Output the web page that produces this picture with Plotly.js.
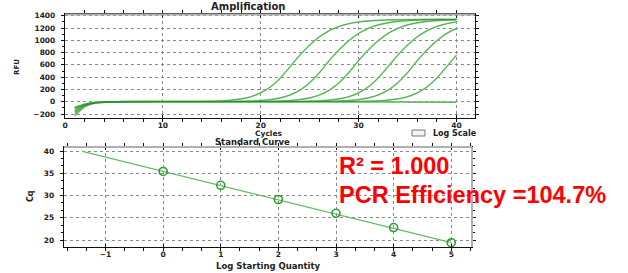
<!DOCTYPE html>
<html>
<head>
<meta charset="utf-8">
<script src="https://cdn.plot.ly/plotly-3.0.1.min.js"></script>
<style>html,body{margin:0;padding:0;background:#fff;}#chart{width:628px;height:273px;}</style>
</head>
<body>
<div id="chart"></div>
<script>
// ---- Amplification data (RFU per cycle) ----
const cycles = [1,2,3,4,5,6,7,8,9,10,11,12,13,14,15,16,17,18,19,20,21,22,23,24,25,26,27,28,29,30,31,32,33,34,35,36,37,38,39,40];
const rfuStd1 = [-150,-55,-18,-6,-2,0,1,2,2,3,3,3,3,4,8,14,26,46,82,144,241,385,569,757,922,1057,1157,1225,1270,1298,1315,1325,1331,1334,1337,1339,1340,1341,1342,1342];
const rfuStd2 = [-200,-70,-22,-8,-3,-1,0,1,1,2,2,2,2,2,2,3,4,6,10,19,34,62,109,187,307,473,670,843,993,1111,1194,1250,1285,1307,1320,1328,1333,1336,1338,1339];
const rfuStd3 = [-90,-45,-15,-5,-2,0,1,1,2,2,2,2,2,2,2,2,2,3,3,4,6,10,19,34,62,109,187,307,473,670,843,993,1111,1194,1250,1285,1307,1320,1328,1333];
const rfuStd4 = [-120,-50,-16,-5,-2,0,1,1,1,2,2,2,2,2,2,2,2,2,2,2,2,3,3,4,8,14,26,46,82,144,241,385,569,757,922,1057,1157,1225,1270,1298];
const rfuStd5 = [-230,-85,-25,-9,-4,-2,-1,0,0,1,1,1,1,1,1,1,1,1,1,1,1,1,2,2,3,4,6,10,19,34,62,109,187,307,473,670,843,993,1111,1194];
const rfuStd6 = [-170,-65,-20,-7,-3,-1,0,0,1,1,1,1,1,1,1,1,1,1,1,1,1,1,1,1,1,1,2,2,3,4,8,14,26,46,82,144,241,385,569,757];
const rfuNtc  = [-100,-40,-12,-4,-1,0,1,1,1,1,1,1,1,1,1,1,1,1,1,1,0,0,0,0,0,0,-1,-1,-2,-2,-3,-3,-4,-4,-5,-5,-6,-6,-7,-7];

// ---- Standard curve data ----
const logQty = [0,1,2,3,4,5];
const cqValues = [35.4,32.3,29.1,26.0,22.8,19.4];
const fitX = [-1.4,5];
const fitY = [39.9,19.4];

const ampTickVals = [0,10,20,30,40];
const rfuTickVals = [-200,0,200,400,600,800,1000,1200,1400];
const lsqTickVals = [-1,0,1,2,3,4,5];
const cqTickVals = [20,25,30,35,40];

const W = 628, H = 273;
const px = v => v / W;
const py = v => 1 - v / H;

const lightG = '#9ada9a';
const darkG = '#2a922a';
const curves = [rfuStd1, rfuStd2, rfuStd3, rfuStd4, rfuStd5, rfuStd6, rfuNtc];
const traces = [];
curves.forEach(c => traces.push({x: cycles, y: c, type: 'scatter', mode: 'lines', xaxis: 'x', yaxis: 'y',
  line: {color: lightG, width: 1.7, shape: 'spline', smoothing: 0.6}, hoverinfo: 'skip', showlegend: false}));
curves.forEach(c => traces.push({x: cycles, y: c, type: 'scatter', mode: 'lines', xaxis: 'x', yaxis: 'y',
  line: {color: darkG, width: 0.7, shape: 'spline', smoothing: 0.6}, hoverinfo: 'skip', showlegend: false}));

traces.push({x: fitX, y: fitY, type: 'scatter', mode: 'lines', xaxis: 'x2', yaxis: 'y2',
  line: {color: '#66bb66', width: 1.3}, showlegend: false});
traces.push({x: logQty, y: cqValues, type: 'scatter', mode: 'markers', xaxis: 'x2', yaxis: 'y2',
  marker: {symbol: 'circle-open', size: 8, color: '#2f9a2f', line: {width: 1.6, color: '#2f9a2f'}}, showlegend: false});

const tickFont = {family: 'DejaVu Sans', size: 7.5, color: '#222', weight: 'bold'};
const axBase = {
  showline: true, linecolor: '#111', linewidth: 1.2, mirror: 'allticks',
  tickcolor: '#111', tickwidth: 1,
  showgrid: true, gridcolor: '#8a8a8a', gridwidth: 1, griddash: 'dot',
  zeroline: false, tickfont: tickFont, fixedrange: true
};
const xAx = Object.assign({}, axBase, {ticks: 'inside', ticklen: 3});
const yAx = Object.assign({}, axBase, {ticks: 'outside', ticklen: 3, ticklabelstandoff: 4});
const minorX = d => ({dtick: d, ticklen: 3, ticks: 'outside', tickcolor: '#111', showgrid: false});

const annFont = (s, c) => ({family: 'DejaVu Sans', size: s, color: c || '#222', weight: 'bold'});

const layout = {
  width: W, height: H, margin: {l: 0, r: 0, t: 0, b: 0},
  paper_bgcolor: '#fff', plot_bgcolor: '#fff', showlegend: false,
  xaxis: Object.assign({}, xAx, {domain: [px(65), px(475)], anchor: 'y', range: [0, 41.9],
    tickvals: ampTickVals, minor: Object.assign(minorX(2), {tick0: 0})}),
  yaxis: Object.assign({}, yAx, {domain: [py(118), py(14.5)], anchor: 'x', range: [-265, 1420],
    tickvals: rfuTickVals, minor: {dtick: 100, tick0: 0, ticklen: 2, ticks: 'outside', tickcolor: '#111', showgrid: false}}),
  xaxis2: Object.assign({}, xAx, {domain: [px(64), px(472)], anchor: 'y2', range: [-1.72, 5.36],
    tickvals: lsqTickVals, minor: Object.assign(minorX(1/3), {tick0: 0})}),
  yaxis2: Object.assign({}, yAx, {domain: [py(247), py(147)], anchor: 'x2', range: [18.43, 40.9],
    tickvals: cqTickVals, minor: {dtick: 5/3, tick0: 20, ticklen: 2, ticks: 'outside', tickcolor: '#111', showgrid: false}}),
  shapes: [
    {type: 'line', xref: 'paper', yref: 'paper', x0: px(65), x1: px(475), y0: py(14.5), y1: py(14.5), line: {color: '#b0b0b0', width: 2}},
    {type: 'line', xref: 'paper', yref: 'paper', x0: px(64), x1: px(472), y0: py(147), y1: py(147), line: {color: '#b0b0b0', width: 2}},
    {type: 'line', xref: 'paper', yref: 'paper', x0: px(472), x1: px(472), y0: py(147), y1: py(247), line: {color: '#b0b0b0', width: 2}},
    {type: 'rect', xref: 'paper', yref: 'paper', x0: px(412), x1: px(425), y0: py(136), y1: py(130),
     line: {color: '#777', width: 1}, fillcolor: '#f4f4f4'}
  ],
  annotations: [
    {text: 'Amplification', x: px(248), y: py(6), xref: 'paper', yref: 'paper', showarrow: false, xanchor: 'center', yanchor: 'middle', font: annFont(10)},
    {text: 'RFU', x: px(17), y: py(67), xref: 'paper', yref: 'paper', showarrow: false, textangle: -90, xanchor: 'center', yanchor: 'middle', font: annFont(7)},
    {text: 'Cycles', x: px(268), y: py(133.7), xref: 'paper', yref: 'paper', showarrow: false, xanchor: 'center', yanchor: 'middle', font: annFont(7.5)},
    {text: 'Standard Curve', x: px(252), y: py(142.2), xref: 'paper', yref: 'paper', showarrow: false, xanchor: 'center', yanchor: 'middle', font: annFont(8.5)},
    {text: 'Log Scale', x: px(431), y: py(133.5), xref: 'paper', yref: 'paper', showarrow: false, xanchor: 'left', yanchor: 'middle', font: annFont(8)},
    {text: 'Cq', x: px(30), y: py(196), xref: 'paper', yref: 'paper', showarrow: false, textangle: -90, xanchor: 'center', yanchor: 'middle', font: annFont(8)},
    {text: 'Log Starting Quantity', x: px(268), y: py(266), xref: 'paper', yref: 'paper', showarrow: false, xanchor: 'center', yanchor: 'middle', font: annFont(8.5)},
    {text: 'R² = 1.000', x: px(337), y: py(166), xref: 'paper', yref: 'paper', showarrow: false, xanchor: 'left', yanchor: 'middle',
     font: {family: 'Liberation Sans', size: 23.5, color: '#ff0000', weight: 'bold'}},
    {text: 'PCR Efficiency =104.7%', x: px(337), y: py(195), xref: 'paper', yref: 'paper', showarrow: false, xanchor: 'left', yanchor: 'middle',
     font: {family: 'Liberation Sans', size: 23.5, color: '#ff0000', weight: 'bold'}}
  ]
};

Plotly.newPlot('chart', traces, layout, {staticPlot: true, displayModeBar: false});
</script>
</body>
</html>
